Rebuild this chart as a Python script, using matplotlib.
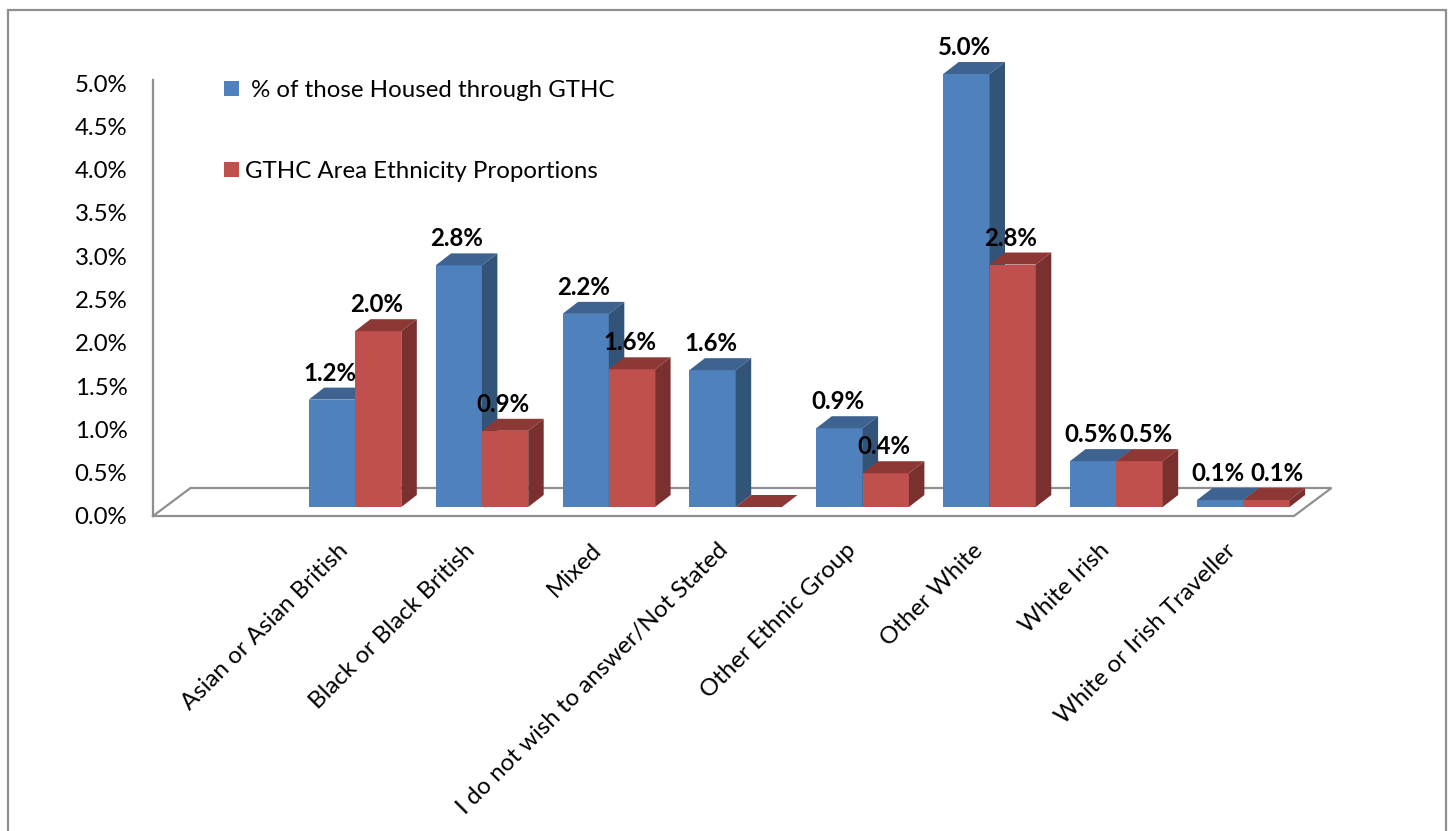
import matplotlib
matplotlib.use('Agg')
import matplotlib.pyplot as plt
from matplotlib.patches import Polygon, Patch, Rectangle
from matplotlib.transforms import ScaledTranslation

plt.rcParams['font.family'] = ['Lato', 'DejaVu Sans']

categories = ['Asian or Asian British', 'Black or Black British', 'Mixed',
              'I do not wish to answer/Not Stated', 'Other Ethnic Group',
              'Other White', 'White Irish', 'White or Irish Traveller']
housed = [1.24, 2.79, 2.23, 1.58, 0.91, 5.0, 0.53, 0.08]
area = [2.03, 0.88, 1.59, 0.0, 0.39, 2.80, 0.53, 0.08]
housed_name = ' % of those Housed through GTHC'
area_name = 'GTHC Area Ethnicity Proportions'
yticks = [0.0, 0.5, 1.0, 1.5, 2.0, 2.5, 3.0, 3.5, 4.0, 4.5, 5.0]

W, H = 1450, 831
fig = plt.figure(figsize=(W / 100, H / 100), dpi=100)

# axes box in pixels: y axis at 153, floor front right at 1294, 0% at 516, 5% at 83
left, right, y0, y5 = 153, 1294, 516, 83
ax = fig.add_axes([left / W, 1 - y0 / H, (right - left) / W, (y0 - y5) / H])
px_x = 126.9  # pixels per category
px_y = (y0 - y5) / 5.0  # pixels per percent
ax.set_xlim((left - 355) / px_x, (right - 355) / px_x)
ax.set_ylim(0, 5)
ax.patch.set_visible(False)
for s in ax.spines.values():
    s.set_visible(False)

GREY = '#8f8f8f'
LW = 1.6
bar_w = 46.3 / px_x
dx = 15.5 / px_x  # bar depth
dy = 12 / px_y
base = 9 / px_y  # bars stand a little behind the floor front edge
fx = 37.5 / px_x  # floor depth
fy = 28 / px_y
xa, xb = ax.get_xlim()

# floor and y axis
ax.plot([xa, xa], [0, 5 + 3 / px_y], color=GREY, lw=LW, clip_on=False, zorder=1)
ax.plot([xa, xb, xb + fx, xa + fx, xa], [0, 0, fy, fy, 0], color=GREY, lw=LW,
        clip_on=False, zorder=1, solid_joinstyle='miter')


def bar3d(x, v, front, top, side, z):
    y = base + v
    ax.bar(x, v, bar_w, bottom=base, align='edge', color=front, zorder=z, clip_on=False)
    ax.add_patch(Polygon([(x, y), (x + bar_w, y), (x + bar_w + dx, y + dy), (x + dx, y + dy)],
                         facecolor=top, edgecolor='none', zorder=z, clip_on=False))
    ax.add_patch(Polygon([(x + bar_w, base), (x + bar_w + dx, base + dy),
                          (x + bar_w + dx, y + dy), (x + bar_w, y)],
                         facecolor=side, edgecolor='none', zorder=z, clip_on=False))


z = 2
for i in range(len(categories)):
    bar3d(i - bar_w, housed[i], '#4F81BD', '#3E6390', '#335479', z)
    bar3d(i, area[i], '#C0504D', '#8E3836', '#7A302E', z + 1)
    z += 2

# value labels, the last two red ones were moved by hand
nudge = {6: 8, 7: 12}
FS = 17.3
for i in range(len(categories)):
    ax.annotate('%.1f%%' % housed[i], (i - bar_w / 2, base + housed[i]),
                xytext=(-1.4, 19), textcoords='offset points', ha='center', va='center',
                fontsize=FS, fontweight='bold', color='black', zorder=50,
                annotation_clip=False)
    if area[i] > 0:
        ax.annotate('%.1f%%' % area[i], (i + bar_w / 2, base + area[i]),
                    xytext=(-1.4 + nudge.get(i, 0) * 0.72, 19), textcoords='offset points',
                    ha='center', va='center',
                    fontsize=FS, fontweight='bold', color='black', zorder=50,
                    annotation_clip=False)

ax.set_yticks(yticks)
ax.set_yticklabels(['%.1f%%' % t for t in yticks], fontsize=FS)
ax.tick_params(axis='y', length=0, pad=18.5)
ax.set_xticks(range(len(categories)))
ax.set_xticklabels(categories, rotation=45, ha='right', va='top', rotation_mode='anchor',
                   fontsize=FS)
ax.tick_params(axis='x', length=0, pad=17)
shift = ScaledTranslation(-18 / 100, 0, fig.dpi_scale_trans)
for lab in ax.get_xticklabels():
    lab.set_transform(lab.get_transform() + shift)

handles = [Patch(facecolor='#4F81BD', label=housed_name),
           Patch(facecolor='#C0504D', label=area_name)]
fig.legend(handles=handles, loc='upper left', bbox_to_anchor=(224 / W, 1 - 80 / H),
           frameon=False, fontsize=FS, borderpad=0, borderaxespad=0,
           handlelength=0.62, handleheight=0.62, handletextpad=0.27, labelspacing=2.5)

# chart border, runs off the bottom of the picture
fig.add_artist(Rectangle((7.5 / W, -0.05), (1446 - 7.5) / W, 1.05 - 10 / H,
                         transform=fig.transFigure, fill=False, edgecolor=GREY, linewidth=LW))

fig.savefig('out.png', dpi=100)
